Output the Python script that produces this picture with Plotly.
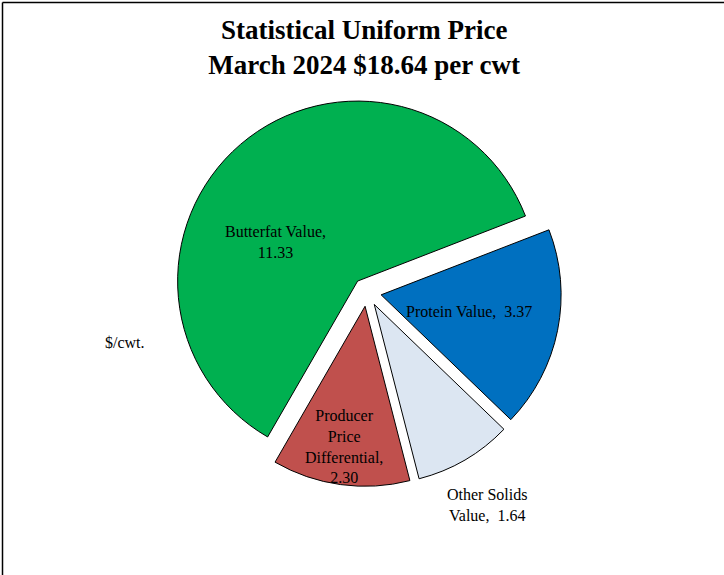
import plotly.graph_objects as go

# ---- data ----
categories = ["Butterfat Value", "Protein Value", "Other Solids Value", "Producer Price Differential"]
values = [11.33, 3.37, 1.64, 2.30]
label_text = ["Butterfat Value", "Protein Value", "Other Solids<br>Value", "Producer<br>Price<br>Differential"]
label_sep = [",<br>", ", \u00a0", ", \u00a0", ",<br>"]
colors = ["#00B050", "#0070C0", "#DCE6F2", "#C0504D"]
title_lines = ["Statistical Uniform Price", "March 2024 $18.64 per cwt"]
axis_note = "$/cwt."

W, H = 724, 575
FONT = "Liberation Serif, Times New Roman, serif"

PULL = 0.08
R = 180
CX, CY, HALF = 367, 292, R * (1 + PULL)

fig = go.Figure()
fig.add_trace(go.Pie(
    labels=categories,
    values=values,
    sort=False,
    direction="clockwise",
    rotation=210,
    pull=[PULL] * 4,
    marker=dict(colors=colors, line=dict(color="#000000", width=1)),
    textinfo="none",
    hoverinfo="label+value",
    showlegend=False,
    domain=dict(x=[(CX - HALF) / W, (CX + HALF) / W],
                y=[1 - (CY + HALF) / H, 1 - (CY - HALF) / H]),
))

# label placements (pixel centres) for each slice label
label_pos = [(275, 242), (469, 311), (487, 505), (344, 446)]
for txt, sep, v, (px, py) in zip(label_text, label_sep, values, label_pos):
    fig.add_annotation(
        x=px / W, y=1 - py / H, xref="paper", yref="paper",
        text=f"{txt}{sep}{v:.2f}", showarrow=False,
        xanchor="center", yanchor="middle", align="center",
        font=dict(family=FONT, size=16, color="#000000"),
    )

fig.add_annotation(
    x=125 / W, y=1 - 342 / H, xref="paper", yref="paper",
    text=axis_note, showarrow=False, xanchor="center", yanchor="middle",
    font=dict(family=FONT, size=16, color="#000000"),
)

# frame lines (top and left)
fig.add_shape(type="line", xref="paper", yref="paper",
              x0=2.5 / W, x1=1, y0=1 - 2.5 / H, y1=1 - 2.5 / H,
              line=dict(color="#000000", width=1.5))
fig.add_shape(type="line", xref="paper", yref="paper",
              x0=2.5 / W, x1=2.5 / W, y0=0, y1=1 - 2.5 / H,
              line=dict(color="#000000", width=1.5))

fig.update_layout(
    width=W, height=H,
    margin=dict(l=0, r=0, t=0, b=0),
    paper_bgcolor="#FFFFFF", plot_bgcolor="#FFFFFF",
    title=dict(
        text="<b>" + "<br>".join(title_lines) + "</b>",
        x=0.503, xanchor="center",
        y=1 - 39 / H, yanchor="middle", yref="container",
        font=dict(family=FONT, size=27, color="#000000"),
    ),
)

fig.write_html("out.html",
               config={"displayModeBar": False},
               post_script="document.body.style.margin='0';document.body.style.overflow='hidden';")
